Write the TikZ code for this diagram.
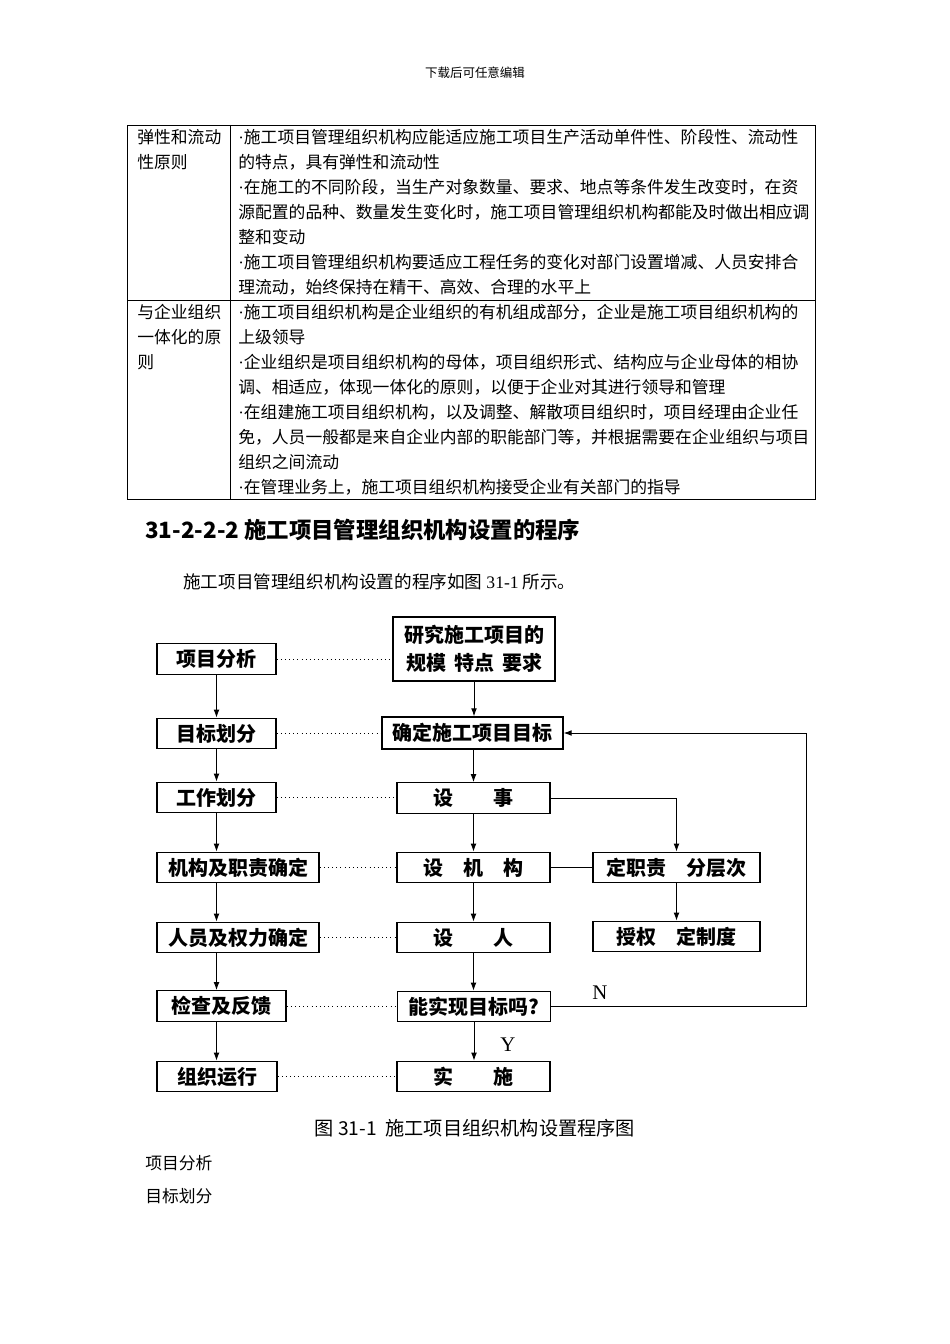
\documentclass[tikz,border=0pt]{standalone}
\usepackage{fontspec}
\setmainfont{Noto Sans CJK SC}
\newfontfamily\latinserif{Liberation Serif}
\usepackage{tikz}
\usetikzlibrary{arrows.meta,positioning,calc}
\newcommand\itemdot{{\latinserif ·}}
\tikzset{
  cell/.style={anchor=west, inner sep=0pt, font=\fontsize{10.5}{12}\selectfont},
  flow/.style={draw, line width=0.8pt, inner sep=0pt, minimum height=19pt, align=center,
    font=\fontsize{12.5}{17.5}\selectfont\bfseries},
  arr/.style={-{Latex[length=5pt,width=3.6pt]}, line width=0.6pt},
  link/.style={dotted, line width=0.6pt},
}

\begin{document}
\begin{tikzpicture}[x=0.625pt,y=-0.625pt]
  \fill[white] (0,0) rectangle (950,1344);
  \node[font=\fontsize{7.8}{8}\selectfont] (hdr) at (475,73) {下载后可任意编辑};
  %--------------- table ---------------
  \draw[line width=0.6pt] (127,125) rectangle (815,499);
  \draw[line width=0.6pt] (230,125) -- (230,499);
  \draw[line width=0.6pt] (127,300) -- (815,300);
  % first row
  \node[cell] (ka) at (137,137) {弹性和流动};
  \node[cell] (kb) at (137,162) {性原则};
  \node[cell] (ta) at (238,137) {\itemdot 施工项目管理组织机构应能适应施工项目生产活动单件性、阶段性、流动性};
  \node[cell] (tb) at (238,162) {的特点，具有弹性和流动性};
  \node[cell] (tc) at (238,187) {\itemdot 在施工的不同阶段，当生产对象数量、要求、地点等条件发生改变时，在资};
  \node[cell] (td) at (238,212) {源配置的品种、数量发生变化时，施工项目管理组织机构都能及时做出相应调};
  \node[cell] (te) at (238,237) {整和变动};
  \node[cell] (tf) at (238,262) {\itemdot 施工项目管理组织机构要适应工程任务的变化对部门设置增减、人员安排合};
  \node[cell] (tg) at (238,287) {理流动，始终保持在精干、高效、合理的水平上};
  % second row
  \node[cell] (la) at (137,312) {与企业组织};
  \node[cell] (lb) at (137,337) {一体化的原};
  \node[cell] (lc) at (137,362) {则};
  \node[cell] (ua) at (238,312) {\itemdot 施工项目组织机构是企业组织的有机组成部分，企业是施工项目组织机构的};
  \node[cell] (ub) at (238,337) {上级领导};
  \node[cell] (uc) at (238,362) {\itemdot 企业组织是项目组织机构的母体，项目组织形式、结构应与企业母体的相协};
  \node[cell] (ud) at (238,387) {调、相适应，体现一体化的原则，以便于企业对其进行领导和管理};
  \node[cell] (ue) at (238,412) {\itemdot 在组建施工项目组织机构，以及调整、解散项目组织时，项目经理由企业任};
  \node[cell] (uf) at (238,437) {免，人员一般都是来自企业内部的职能部门等，并根据需要在企业组织与项目};
  \node[cell] (ug) at (238,462) {组织之间流动};
  \node[cell] (uh) at (238,487) {\itemdot 在管理业务上，施工项目组织机构接受企业有关部门的指导};
  %--------------- heading and text ---------------
  \node[anchor=west, inner sep=0pt, font=\fontsize{14}{14}\selectfont\bfseries] (sec) at (145,530)
    {31-2-2-2 施工项目管理组织机构设置的程序};
  \node[anchor=west, inner sep=0pt, font=\fontsize{11}{11}\selectfont] (par) at (183,582)
    {施工项目管理组织机构设置的程序如图 {\latinserif 31-1} 所示。};
  %--------------- left column ---------------
  \node[flow, minimum width=74.4pt] (ana) at (216.5,659) {项目分析};
  \node[flow, minimum width=74.4pt] (div) at (216.5,733.5) {目标划分};
  \node[flow, minimum width=74.4pt] (work) at (216.5,797.5) {工作划分};
  \node[flow, minimum width=101.25pt] (org) at (238,867.5) {机构及职责确定};
  \node[flow, minimum width=101.25pt] (staff) at (238,937.5) {人员及权力确定};
  \node[flow, minimum width=80.6pt] (check) at (221.5,1006) {检查及反馈};
  \node[flow, minimum width=75pt] (run) at (217,1076.5) {组织运行};
  %--------------- main column ---------------
  \node[flow, minimum width=101.25pt, minimum height=40pt] (study) at (474,649)
    {研究施工项目的\\规模\hspace{5pt}特点\hspace{5pt}要求};
  \node[flow, minimum width=113.1pt, minimum height=20pt] (goal) at (472.5,733) {确定施工项目目标};
  \node[flow, minimum width=95.6pt] (task) at (473.5,798) {设　　事};
  \node[flow, minimum width=95.6pt] (unit) at (473.5,867.5) {设　机　构};
  \node[flow, minimum width=95.6pt] (man) at (473.5,937.5) {设　　人};
  \node[flow, minimum width=96pt] (test) at (474,1006.5) {能实现目标吗?};
  \node[flow, minimum width=95.6pt] (act) at (473.5,1076.5) {实　　施};
  %--------------- right column ---------------
  \node[flow, minimum width=104.4pt] (duty) at (676.5,867.5) {定职责　分层次};
  \node[flow, minimum width=104.4pt] (auth) at (676.5,936.5) {授权　定制度};
  %--------------- arrows ---------------
  % left column
  \draw[arr] (ana.south) -- (div.north);
  \draw[arr] (div.south) -- (work.north);
  \draw[arr] (work.south) -- (work.south |- org.north);
  \draw[arr] (work.south |- org.south) -- (work.south |- staff.north);
  \draw[arr] (work.south |- staff.south) -- (work.south |- check.north);
  \draw[arr] (work.south |- check.south) -- (work.south |- run.north);
  % main column
  \draw[arr] (study.south) -- (study.south |- goal.north);
  \draw[arr] (task.north |- goal.south) -- (task.north);
  \draw[arr] (task.south) -- (unit.north);
  \draw[arr] (unit.south) -- (man.north);
  \draw[arr] (man.south) -- (man.south |- test.north);
  \draw[arr] (test.south) -- (test.south |- act.north);
  % branch to the right
  \draw[arr] (task.east) -| (duty.north);
  \draw[line width=0.6pt] (unit.east) -- (duty.west);
  \draw[arr] (duty.south) -- (auth.north);
  % feedback N
  \coordinate (back) at (806,1006.5);
  \draw[arr] (test.east) -- (back) |- (goal.east);
  \node[font=\latinserif\fontsize{13}{13}\selectfont] (no) at (600,993) {N};
  \node[font=\latinserif\fontsize{13}{13}\selectfont] (yes) at (508,1045) {Y};
  % dotted links
  \draw[link] (ana.east) -- (ana.east -| study.west);
  \draw[link] (div.east) -- (div.east -| goal.west);
  \draw[link] (work.east) -- (work.east -| task.west);
  \draw[link] (org.east) -- (org.east -| unit.west);
  \draw[link] (staff.east) -- (staff.east -| man.west);
  \draw[link] (check.east) -- (check.east -| test.west);
  \draw[link] (run.east) -- (run.east -| act.west);
  %--------------- caption ---------------
  \node[font=\fontsize{12}{12}\selectfont] (cap) at (475,1128) {图 31-1 \ 施工项目组织机构设置程序图};
  \node[cell] (ba) at (145,1163) {项目分析};
  \node[cell] (bb) at (145,1196) {目标划分};
\end{tikzpicture}
\end{document}
